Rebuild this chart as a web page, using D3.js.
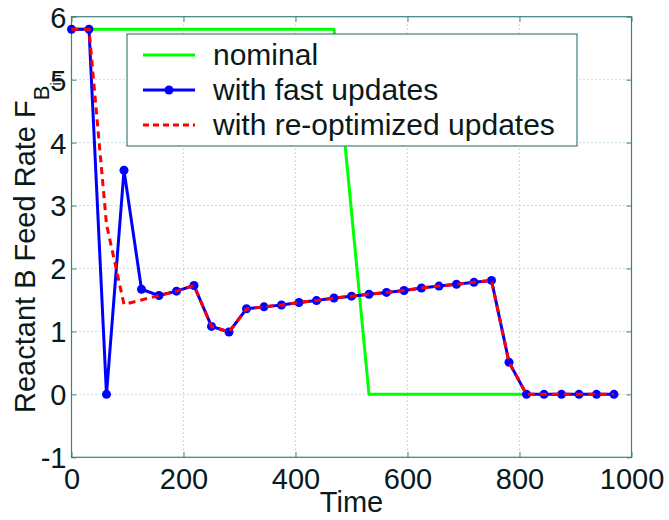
<!DOCTYPE html>
<html>
<head>
<meta charset="utf-8">
<script src="https://cdn.jsdelivr.net/npm/d3@7"></script>
<style>
  html, body { margin: 0; padding: 0; background: #fff; }
  svg { display: block; }
  text { font-family: "Liberation Sans", Arial, Helvetica, sans-serif; fill: #0a1a1a; }
</style>
</head>
<body>
<svg id="chart" width="669" height="520"></svg>
<script>
// Sample times (update instants) and feed-rate profiles
const sampleTimes = [0, 31.25, 62.5, 93.75, 125, 156.25, 187.5, 218.75, 250, 281.25,
  312.5, 343.75, 375, 406.25, 437.5, 468.75, 500, 531.25, 562.5, 593.75,
  625, 656.25, 687.5, 718.75, 750, 781.25, 812.5, 843.75, 875, 906.25, 937.5, 968.75];

const fastValues = [5.8, 5.8, 0, 3.56, 1.67, 1.57, 1.64, 1.73, 1.08, 0.99,
  1.36, 1.39, 1.42, 1.46, 1.49, 1.53, 1.56, 1.59, 1.62, 1.65,
  1.69, 1.72, 1.75, 1.78, 1.81, 0.51, 0, 0, 0, 0, 0, 0];

const reoptValues = [5.8, 5.8, 2.7, 1.43, 1.5, 1.57, 1.64, 1.73, 1.08, 0.99,
  1.36, 1.39, 1.42, 1.46, 1.49, 1.53, 1.56, 1.59, 1.62, 1.65,
  1.69, 1.72, 1.75, 1.78, 1.81, 0.51, 0, 0, 0, 0, 0, 0];

const nominalTimes = [0, 468.75, 531.25, 812.5];
const nominalValues = [5.8, 5.8, 0, 0];

const xTicks = [0, 200, 400, 600, 800, 1000];
const yTicks = [-1, 0, 1, 2, 3, 4, 5, 6];

const seriesNames = ["nominal", "with fast updates", "with re-optimized updates"];

const svg = d3.select("#chart");
const pLeft = 71.5, pRight = 631.5, pTop = 16.7, pBottom = 457.3;

const x = d3.scaleLinear().domain([0, 1000]).range([pLeft, pRight]);
const y = d3.scaleLinear().domain([-1, 6]).range([pBottom, pTop]);

const gridColor = "#8cc4c4";
const frameColor = "#3f7f7f";

// grid
const grid = svg.append("g");
grid.selectAll(".gx").data(xTicks.slice(1, -1)).join("line")
  .attr("x1", d => x(d)).attr("x2", d => x(d))
  .attr("y1", pTop).attr("y2", pBottom)
  .attr("stroke", gridColor).attr("stroke-width", 1)
  .attr("stroke-dasharray", "1,3");
grid.selectAll(".gy").data(yTicks.slice(1, -1)).join("line")
  .attr("x1", pLeft).attr("x2", pRight)
  .attr("y1", d => y(d)).attr("y2", d => y(d))
  .attr("stroke", gridColor).attr("stroke-width", 1)
  .attr("stroke-dasharray", "1,3");

// axes with inward ticks on all four sides
function styleAxis(g) {
  g.select(".domain").remove();
  g.selectAll(".tick line").attr("stroke", frameColor).attr("stroke-width", 1);
  g.selectAll(".tick text").attr("font-size", 29).attr("fill", "#0a1a1a")
    .attr("font-family", "Liberation Sans, Arial, sans-serif");
}
const xAxis = svg.append("g").attr("transform", `translate(0,${pBottom})`)
  .call(d3.axisBottom(x).tickValues(xTicks).tickFormat(d3.format("d")).tickSizeInner(-5).tickSizeOuter(0).tickPadding(11));
styleAxis(xAxis);
xAxis.selectAll(".tick text").attr("dy", "0.71em").attr("y", 11);

const xAxisTop = svg.append("g").attr("transform", `translate(0,${pTop})`)
  .call(d3.axisTop(x).tickValues(xTicks).tickSizeInner(-5).tickSizeOuter(0).tickFormat(""));
styleAxis(xAxisTop);

const yAxis = svg.append("g").attr("transform", `translate(${pLeft},0)`)
  .call(d3.axisLeft(y).tickValues(yTicks).tickFormat(d3.format("d")).tickSizeInner(-5).tickSizeOuter(0).tickPadding(10));
styleAxis(yAxis);
yAxis.selectAll(".tick text").attr("x", -5).attr("dy", "0.36em").text(d => d < 0 ? "-" + Math.abs(d) : d);

const yAxisRight = svg.append("g").attr("transform", `translate(${pRight},0)`)
  .call(d3.axisRight(y).tickValues(yTicks).tickSizeInner(-5).tickSizeOuter(0).tickFormat(""));
styleAxis(yAxisRight);

// frame
svg.append("rect").attr("x", pLeft).attr("y", pTop)
  .attr("width", pRight - pLeft).attr("height", pBottom - pTop)
  .attr("fill", "none").attr("stroke", frameColor).attr("stroke-width", 1.2);

// series
const line = d3.line().x(d => x(d[0])).y(d => y(d[1]));
const plot = svg.append("g");

plot.append("path")
  .attr("d", line(nominalTimes.map((t, i) => [t, nominalValues[i]])))
  .attr("fill", "none").attr("stroke", "#00ff00").attr("stroke-width", 3)
  .attr("stroke-linejoin", "round");

const fastPts = sampleTimes.map((t, i) => [t, fastValues[i]]);
plot.append("path")
  .attr("d", line(fastPts))
  .attr("fill", "none").attr("stroke", "#0000ff").attr("stroke-width", 3)
  .attr("stroke-linejoin", "round");
plot.selectAll(".mk").data(fastPts).join("circle")
  .attr("cx", d => x(d[0])).attr("cy", d => y(d[1])).attr("r", 4.5)
  .attr("fill", "#0000ff");

plot.append("path")
  .attr("d", line(sampleTimes.map((t, i) => [t, reoptValues[i]])))
  .attr("fill", "none").attr("stroke", "#ff0000").attr("stroke-width", 3)
  .attr("stroke-dasharray", "7,5");

// legend
const lg = svg.append("g");
lg.append("rect").attr("x", 127).attr("y", 34).attr("width", 450).attr("height", 112)
  .attr("fill", "#fff").attr("stroke", frameColor).attr("stroke-width", 1.2);
const rows = [55, 90, 125];
const styles = [
  { color: "#00ff00", dash: null, marker: false },
  { color: "#0000ff", dash: null, marker: true },
  { color: "#ff0000", dash: "6,4", marker: false }
];
seriesNames.forEach((name, i) => {
  const yy = rows[i];
  lg.append("line").attr("x1", 143).attr("x2", 195).attr("y1", yy).attr("y2", yy)
    .attr("stroke", styles[i].color).attr("stroke-width", 3)
    .attr("stroke-dasharray", styles[i].dash);
  if (styles[i].marker) {
    lg.append("circle").attr("cx", 169).attr("cy", yy).attr("r", 4.5).attr("fill", styles[i].color);
  }
  lg.append("text").attr("x", 213).attr("y", yy + 10).attr("font-size", 30).text(name);
});

// axis titles
svg.append("text").attr("x", (pLeft + pRight) / 2).attr("y", 512)
  .attr("text-anchor", "middle").attr("font-size", 29).text("Time");

const yl = svg.append("text")
  .attr("transform", "translate(35,413) rotate(-90)")
  .attr("font-size", 29);
yl.append("tspan").text("Reactant B Feed Rate F");
yl.append("tspan").attr("font-size", 22).attr("dy", 14).text("B");
yl.append("tspan").attr("font-size", 15).attr("dy", 12).text("in");
</script>
</body>
</html>
